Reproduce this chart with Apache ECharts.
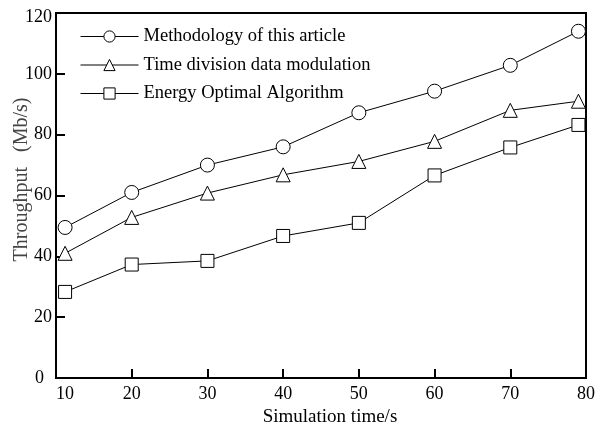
<!DOCTYPE html>
<html><head><meta charset="utf-8">
<script src="https://cdn.jsdelivr.net/npm/echarts@6/dist/echarts.min.js"></script>
<style>html,body{margin:0;padding:0;background:#fff}#c{width:600px;height:426px}</style>
</head><body><div id="c"></div>
<script>
var xValues = [11.2, 20, 30, 40, 50, 60, 70, 79];
var methodology = [49.5, 61, 70, 76, 87.2, 94.3, 102.8, 114];
var timeDivision = [41, 52.8, 60.8, 66.8, 71.2, 77.8, 88, 91];
var energyOptimal = [28.3, 37.3, 38.5, 46.7, 51, 66.6, 75.8, 83.2];
var seriesNames = ['Methodology of this article', 'Time division data modulation', 'Energy Optimal Algorithm'];

function pairs(ys){ return ys.map(function(y,i){ return [xValues[i], y]; }); }
var FONT = 'Liberation Serif';
function mk(name, data, symbol, size){
  return {
    name: name, type: 'line', data: pairs(data), symbol: symbol, symbolSize: size,
    lineStyle: {color: '#000', width: 1},
    itemStyle: {color: '#fff', borderColor: '#000', borderWidth: 1},
    emphasis: {disabled: true}, animation: false
  };
}
var chart = echarts.init(document.getElementById('c'));
chart.setOption({
  animation: false,
  grid: {left: 56, right: 14, top: 13, bottom: 48, show: true, borderColor: '#000', borderWidth: 2,
         containLabel: false, outerBoundsMode: 'none'},
  legend: {
    orient: 'vertical', left: 75, top: 22, itemWidth: 58, itemHeight: 14, itemGap: 9.5,
    textStyle: {fontFamily: FONT, fontSize: 18.5, color: '#000'},
    itemStyle: {color: '#fff', borderColor: '#000', borderWidth: 1},
    lineStyle: {color: '#000', width: 1},
    data: seriesNames
  },
  xAxis: {
    type: 'value', min: 10, max: 80, interval: 10,
    name: 'Simulation time/s', nameLocation: 'middle', nameGap: 30, nameMoveOverlap: false,
    nameTextStyle: {fontFamily: FONT, fontSize: 19, color: '#000', padding: [0,0,0,18]},
    axisLine: {lineStyle: {color: '#000', width: 2}},
    axisTick: {inside: true, length: 9, lineStyle: {color: '#000', width: 2}},
    axisLabel: {fontFamily: FONT, fontSize: 18, color: '#000', margin: 7,
      formatter: function(v){ return v === 10 ? '{a|10}' : String(v); },
      rich: {a: {fontFamily: FONT, fontSize: 18, color: '#000', padding: [0,0,0,18]}}},
    splitLine: {show: false}
  },
  yAxis: {
    type: 'value', min: 0, max: 120, interval: 20,
    name: 'Throughput   (Mb/s)', nameLocation: 'middle', nameGap: 24, nameMoveOverlap: false,
    nameTextStyle: {fontFamily: FONT, fontSize: 20, color: '#444', padding: [0,0,0,32]},
    axisLine: {lineStyle: {color: '#000', width: 2}},
    axisTick: {inside: true, length: 9, lineStyle: {color: '#000', width: 2}},
    axisLabel: {fontFamily: FONT, fontSize: 18, color: '#000', margin: 4,
      formatter: function(v){ return v === 0 ? '{a|0}' : (v === 120 ? '{b|120}' : String(v)); },
      rich: {a: {fontFamily: FONT, fontSize: 18, color: '#000', padding: [0,8,0,0]},
             b: {fontFamily: FONT, fontSize: 18, color: '#000', padding: [8,0,0,0]}}},
    splitLine: {show: false}
  },
  series: [
    mk(seriesNames[0], methodology, 'circle', 14),
    mk(seriesNames[1], timeDivision, 'triangle', 14),
    mk(seriesNames[2], energyOptimal, 'rect', 13)
  ]
});
</script></body></html>
